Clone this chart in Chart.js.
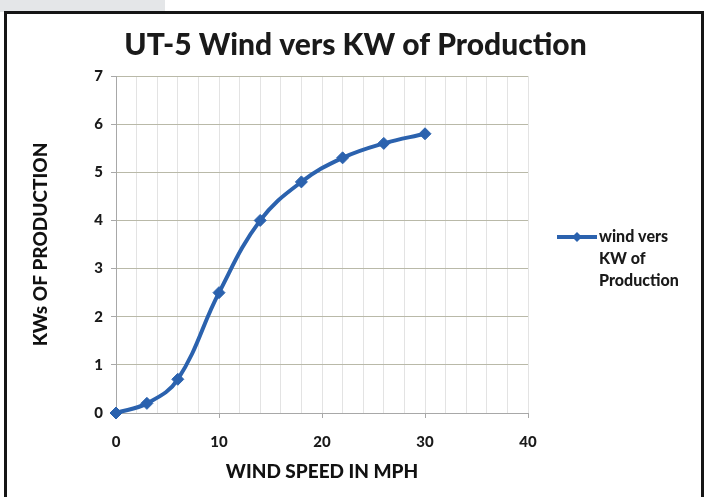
<!DOCTYPE html>
<html>
<head>
<meta charset="utf-8">
<script src="https://cdn.jsdelivr.net/npm/chart.js@4"></script>
<style>
  html, body { margin: 0; padding: 0; background: #ffffff; }
  #wrap { position: relative; width: 711px; height: 497px; overflow: hidden; background: #fff; }
  #greytop { position: absolute; left: 0; top: 0; width: 165px; height: 12px; background: #e4e6e8; }
  #frame { position: absolute; left: 4px; top: 11px; width: 700px; height: 500px; border: 3px solid #151515; box-sizing: border-box; }
  canvas { position: absolute; left: 0; top: 0; }
</style>
</head>
<body>
<div id="wrap">
  <div id="greytop"></div>
  <canvas id="c" width="711" height="497"></canvas>
  <div id="frame"></div>
</div>
<script>
const windSpeed = [0, 3, 6, 10, 14, 18, 22, 26, 30];
const kwProduction = [0, 0.2, 0.7, 2.5, 4, 4.8, 5.3, 5.6, 5.8];
const seriesName = ["wind vers", "KW of", "Production"];
const chartTitle = "UT-5 Wind vers KW of Production";
const xTitle = "WIND SPEED IN MPH";
const yTitle = "KWs OF PRODUCTION";

const blue = '#2b62ae';
const FONT = 'Lato, "Open Sans", sans-serif';

const legendPlugin = {
  id: 'sideLegend',
  afterDraw(chart) {
    const ctx = chart.ctx;
    ctx.save();
    const y0 = 237;
    ctx.strokeStyle = blue;
    ctx.lineWidth = 4;
    ctx.beginPath();
    ctx.moveTo(557, y0);
    ctx.lineTo(597, y0);
    ctx.stroke();
    ctx.fillStyle = blue;
    ctx.beginPath();
    ctx.moveTo(577, y0 - 5);
    ctx.lineTo(582, y0);
    ctx.lineTo(577, y0 + 5);
    ctx.lineTo(572, y0);
    ctx.closePath();
    ctx.fill();
    ctx.fillStyle = '#1a1a1a';
    ctx.font = '900 16px ' + FONT;
    ctx.textBaseline = 'middle';
    ctx.textAlign = 'left';
    seriesName.forEach((t, i) => ctx.fillText(t, 599, y0 + i * 22));
    ctx.restore();
  }
};

new Chart(document.getElementById('c'), {
  type: 'line',
  data: {
    datasets: [{
      label: seriesName.join(' '),
      data: windSpeed.map((x, i) => ({ x: x, y: kwProduction[i] })),
      borderColor: blue,
      backgroundColor: blue,
      borderWidth: 4,
      pointStyle: 'rectRot',
      pointRadius: 6,
      pointBorderWidth: 1,
      pointHoverRadius: 6,
      tension: 0.4,
      clip: false,
      fill: false
    }]
  },
  options: {
    responsive: false,
    animation: false,
    layout: { padding: 0 },
    plugins: {
      legend: { display: false },
      tooltip: { enabled: false },
      title: {
        display: true,
        text: chartTitle,
        color: '#1a1a1a',
        font: { family: FONT, size: 30, weight: '900' },
        padding: { top: 27, bottom: 13 }
      }
    },
    scales: {
      x: {
        type: 'linear',
        min: 0, max: 40,
        afterFit(s) { s.height = 84; },
        border: { display: true, color: '#a8a8a8', width: 1 },
        grid: {
          color: 'rgba(0,0,0,0.11)',
          tickLength: 5,
          tickColor: (c) => (c.tick && c.tick.value % 10 === 0) ? '#a8a8a8' : 'rgba(0,0,0,0)'
        },
        ticks: {
          stepSize: 2,
          autoSkip: false,
          maxRotation: 0,
          color: '#1a1a1a',
          font: { family: FONT, size: 15, weight: '900' },
          padding: 15,
          callback: (v) => (v % 10 === 0 ? String(v) : '')
        },
        title: {
          display: true,
          text: xTitle,
          color: '#111111',
          font: { family: FONT, size: 19, weight: '900' },
          padding: { top: 0, bottom: 14 }
        }
      },
      y: {
        min: 0, max: 7,
        afterFit(s) { s.width = 116; },
        border: { display: true, color: '#a8a8a8', width: 1 },
        grid: {
          color: '#b9b9a8',
          tickLength: 5,
          tickColor: '#a8a8a8'
        },
        ticks: {
          stepSize: 1,
          color: '#1a1a1a',
          font: { family: FONT, size: 15, weight: '900' },
          padding: 8
        },
        title: {
          display: true,
          text: yTitle,
          color: '#111111',
          font: { family: FONT, size: 19, weight: '900' },
          padding: { top: 29, bottom: 0 }
        }
      },
      yRight: {
        position: 'right',
        display: true,
        min: 0, max: 7,
        afterFit(s) { s.width = 183; },
        border: { display: false },
        grid: { display: false, drawTicks: false },
        ticks: { display: false }
      }
    }
  },
  plugins: [legendPlugin]
});
</script>
</body>
</html>
